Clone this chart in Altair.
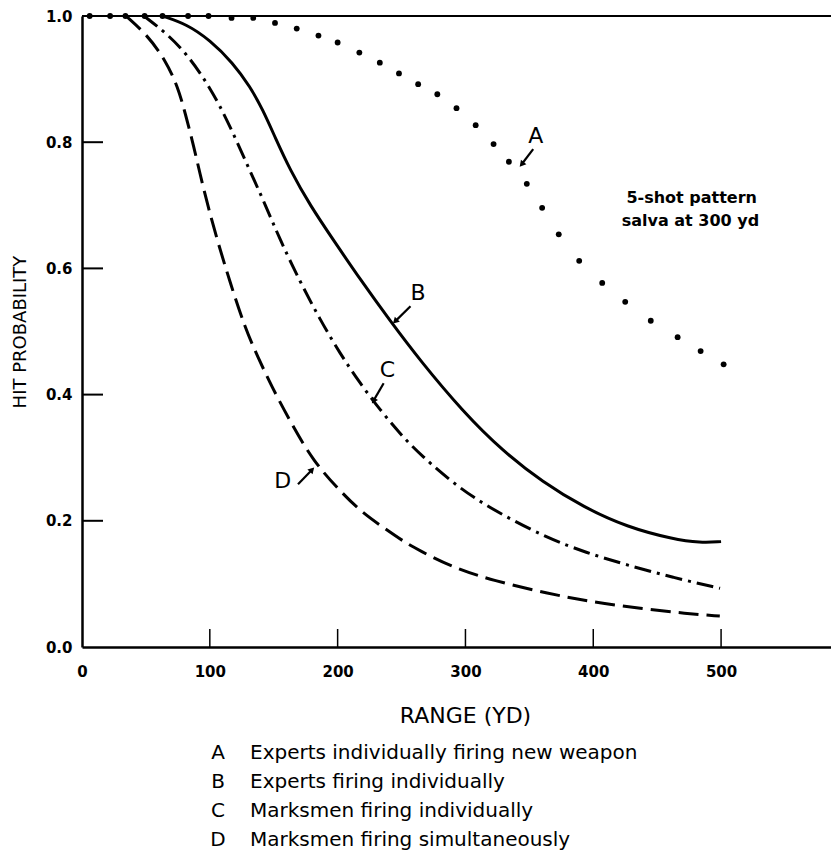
import altair as alt
import pandas as pd

# ---------------- data ----------------
# Curve A: experts individually firing new weapon (dotted)
a_range = [6, 22, 34, 49, 63, 83, 99, 117, 134, 151, 168, 185, 200, 217, 233, 248,
           263, 278, 293, 308, 322, 334, 348, 360, 373, 389, 407, 425, 445, 466, 484, 502]
a_prob = [1.0, 1.0, 1.0, 1.0, 1.0, 1.0, 1.0, 0.997, 0.997, 0.989, 0.980, 0.969, 0.958, 0.942,
          0.926, 0.909, 0.892, 0.876, 0.854, 0.827, 0.797, 0.769, 0.734, 0.696, 0.654, 0.612,
          0.577, 0.547, 0.517, 0.491, 0.469, 0.448]

# Curve B: experts firing individually (solid)
b_range = [63, 82, 100, 118, 131.5, 141.6, 151, 162.8, 178.4, 198, 217.5, 241, 264.5, 298,
           329.4, 360.7, 392, 426.4, 462.4, 483.6, 500]
b_prob = [1.0, 0.987, 0.962, 0.926, 0.888, 0.851, 0.808, 0.756, 0.700, 0.641, 0.583, 0.517,
          0.454, 0.373, 0.310, 0.261, 0.222, 0.190, 0.171, 0.165, 0.167]

# Curve C: marksmen firing individually (dash-dot)
c_range = [48.5, 66.5, 82.2, 96.2, 107.9, 119.7, 131.5, 143.2, 155, 170.6, 186.2, 201.9,
           217.5, 233.2, 248.8, 264.5, 295.8, 327.1, 363.8, 395.1, 426.4, 462.4, 499.2]
c_prob = [1.0, 0.972, 0.939, 0.899, 0.858, 0.808, 0.754, 0.702, 0.645, 0.579, 0.519, 0.465,
          0.418, 0.376, 0.338, 0.305, 0.250, 0.211, 0.173, 0.149, 0.130, 0.110, 0.093]

# Curve D: marksmen firing simultaneously (dashed)
d_range = [34.4, 51, 65, 75, 81, 87, 92.3, 98.6, 106.5, 116, 127.5, 137.7, 148.6, 163, 181,
           202, 218, 236, 254, 264, 290, 322, 364, 400, 437, 473, 499]
d_prob = [1.0, 0.97, 0.931, 0.888, 0.844, 0.797, 0.750, 0.698, 0.640, 0.577, 0.506, 0.459,
          0.412, 0.357, 0.294, 0.247, 0.215, 0.189, 0.164, 0.153, 0.126, 0.105, 0.085, 0.071,
          0.061, 0.053, 0.049]

# Curve labels with arrows (label position, arrow start, arrow tip, arrow heading)
lab_letters = ["A", "B", "C", "D"]
lab_x = [355, 263, 239, 157]
lab_y = [0.810, 0.561, 0.439, 0.263]
arr_x1 = [353, 257, 236, 169]
arr_y1 = [0.789, 0.540, 0.418, 0.258]
arr_x2 = [344, 245, 228, 180]
arr_y2 = [0.765, 0.516, 0.390, 0.281]
arr_angle = [220, 225, 209, 43]

# Note
note_lines = ["5-shot pattern", "salva at 300 yd"]
note_x = [477, 476]
note_y = [0.711, 0.675]

# Legend below the chart
legend_letters = ["A", "B", "C", "D"]
legend_texts = ["Experts individually firing new weapon",
                "Experts firing individually",
                "Marksmen firing individually",
                "Marksmen firing simultaneously"]

x_ticks = [0, 100, 200, 300, 400, 500]
y_ticks = [0.0, 0.2, 0.4, 0.6, 0.8, 1.0]

# ---------------- chart ----------------
FONT = "DejaVu Sans"
W, H = 749, 631
XMAX = 586

xs = alt.Scale(domain=[0, XMAX], nice=False, zero=False)
ys = alt.Scale(domain=[0, 1], nice=False)

x_axis = alt.Axis(values=x_ticks, format="d", ticks=False, tickSize=0, labelPadding=17,
                  labelFont=FONT, labelFontSize=15, labelFontWeight="bold", labelColor="black",
                  labelFlush=False, labelOverlap=False, grid=False,
                  domainColor="black", domainWidth=2.5,
                  title="RANGE (YD)", titleFont=FONT, titleFontSize=22, titleFontWeight="normal",
                  titleColor="black", titleX=383, titleY=68, titleBaseline="middle")
y_axis = alt.Axis(values=y_ticks, format=".1f", ticks=False, tickSize=0, labelPadding=10,
                  labelFont=FONT, labelFontSize=15, labelFontWeight="bold", labelColor="black",
                  labelFlush=False, labelOverlap=False, grid=False,
                  domainColor="black", domainWidth=2.5,
                  title="HIT PROBABILITY", titleFont=FONT, titleFontSize=18,
                  titleFontWeight="normal", titleColor="black", titleX=-62, titleY=H / 2,
                  titleBaseline="middle")

dfA = pd.DataFrame({"x": a_range, "y": a_prob})
dfB = pd.DataFrame({"x": b_range, "y": b_prob})
dfC = pd.DataFrame({"x": c_range, "y": c_prob})
dfD = pd.DataFrame({"x": d_range, "y": d_prob})

dots = alt.Chart(dfA).mark_circle(size=34, color="black", opacity=1).encode(
    x=alt.X("x:Q", scale=xs, axis=x_axis),
    y=alt.Y("y:Q", scale=ys, axis=y_axis),
)


def curve(df, dash):
    kw = dict(color="black", strokeWidth=3, interpolate="basis", strokeCap="butt")
    if dash:
        kw["strokeDash"] = dash
    return alt.Chart(df).mark_line(**kw).encode(
        x=alt.X("x:Q", scale=xs), y=alt.Y("y:Q", scale=ys)
    )


lineB = curve(dfB, None)
lineC = curve(dfC, [17, 6, 3, 6])
lineD = curve(dfD, [20, 8])

top_line = alt.Chart(pd.DataFrame({"y": [1.0]})).mark_rule(color="black", strokeWidth=2).encode(
    y=alt.Y("y:Q", scale=ys), x=alt.datum(0), x2=alt.datum(XMAX)
)

xt = alt.Chart(pd.DataFrame({"t": x_ticks[1:]})).mark_rule(color="black", strokeWidth=1.5).encode(
    x=alt.X("t:Q", scale=xs), y=alt.value(H), y2=alt.value(H - 18)
)
yt = alt.Chart(pd.DataFrame({"t": y_ticks[1:-1]})).mark_rule(color="black", strokeWidth=2).encode(
    y=alt.Y("t:Q", scale=ys), x=alt.value(0), x2=alt.value(21)
)

dfLab = pd.DataFrame({"x": lab_x, "y": lab_y, "t": lab_letters, "x1": arr_x1, "y1": arr_y1,
                      "x2": arr_x2, "y2": arr_y2, "ang": arr_angle})
labels = alt.Chart(dfLab).mark_text(font=FONT, fontSize=22, color="black",
                                    baseline="middle", align="center").encode(
    x=alt.X("x:Q", scale=xs), y=alt.Y("y:Q", scale=ys), text="t:N"
)
arrows = alt.Chart(dfLab).mark_rule(color="black", strokeWidth=2.2).encode(
    x=alt.X("x1:Q", scale=xs), y=alt.Y("y1:Q", scale=ys), x2="x2:Q", y2="y2:Q"
)
heads = alt.Chart(dfLab).mark_point(shape="triangle-up", filled=True, color="black",
                                    opacity=1, size=50).encode(
    x=alt.X("x2:Q", scale=xs), y=alt.Y("y2:Q", scale=ys),
    angle=alt.Angle("ang:Q", scale=None)
)

note = alt.Chart(pd.DataFrame({"x": note_x, "y": note_y, "t": note_lines})).mark_text(
    font=FONT, fontSize=16, fontWeight="bold", color="black", baseline="middle", align="center"
).encode(x=alt.X("x:Q", scale=xs), y=alt.Y("y:Q", scale=ys), text="t:N")

one = pd.DataFrame({"k": [0]})
leg_letters = alt.Chart(one).mark_text(
    font=FONT, fontSize=20, color="black", align="center", baseline="alphabetic", lineHeight=29
).encode(x=alt.value(136), y=alt.value(743), text=alt.value(legend_letters))
leg_texts = alt.Chart(one).mark_text(
    font=FONT, fontSize=20, color="black", align="left", baseline="alphabetic", lineHeight=29
).encode(x=alt.value(168), y=alt.value(743), text=alt.value(legend_texts))

chart = alt.layer(
    top_line, xt, yt, dots, lineB, lineC, lineD, labels, arrows, heads, note,
    leg_letters, leg_texts
).properties(
    width=W, height=H,
    padding={"left": 74, "top": 8, "right": 0, "bottom": 204},
    autosize=alt.AutoSizeParams(type="none"),
    background="white",
).configure_view(stroke=None)

chart.save("out.html", embed_options={"renderer": "svg", "actions": False})
